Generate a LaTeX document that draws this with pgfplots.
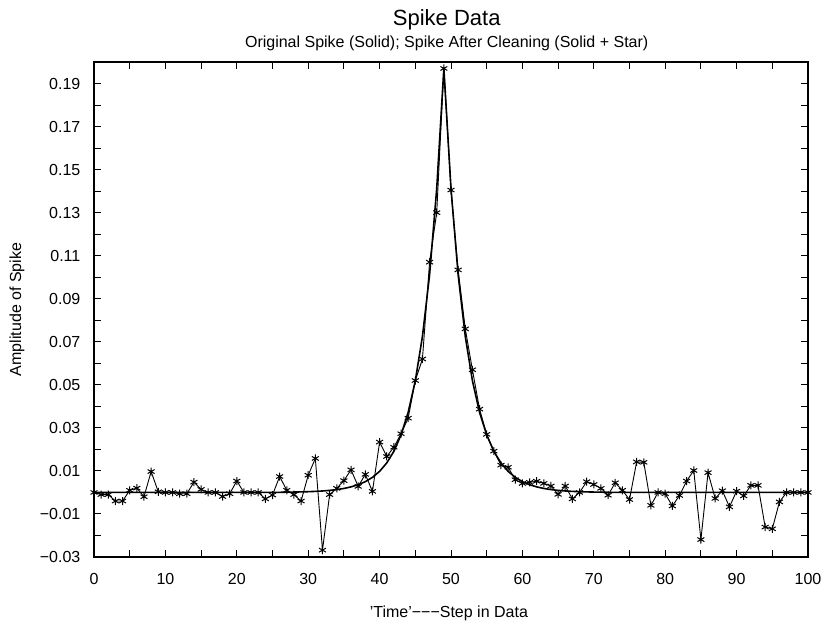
\documentclass[border=0pt]{standalone}
\usepackage{pgfplots}
\pgfplotsset{compat=1.18}
\usepackage{fontspec}
\setmainfont{Liberation Sans}
\begin{document}
\begin{tikzpicture}
\useasboundingbox (-47pt,-35.5pt) rectangle (365.5pt,278.5pt);
\begin{axis}[
  at={(0,0)}, anchor=south west,
  scale only axis,
  width=357pt, height=247.5pt,
  xmin=0, xmax=100, ymin=-0.03, ymax=0.2,
  axis line style={line width=0.6pt},
  tick style={black, line width=0.5pt},
  tick align=inside,
  major tick length=3.5pt, minor tick length=3.5pt,
  xtick={0,10,...,100},
  minor xtick={5,15,...,95},
  ytick={-0.03,-0.01,0.01,0.03,0.05,0.07,0.09,0.11,0.13,0.15,0.17,0.19},
  yticklabels={−0.03,−0.01,0.01,0.03,0.05,0.07,0.09,0.11,0.13,0.15,0.17,0.19},
  minor ytick={-0.02,0,0.02,0.04,0.06,0.08,0.10,0.12,0.14,0.16,0.18},
  /pgf/number format/assume math mode=true,
  ticklabel style={font=\fontsize{8}{9.6}\selectfont},
  xticklabel style={anchor=center, yshift=-11pt},
  yticklabel style={anchor=east, xshift=-3.3pt},
  xlabel={’Time’−−−Step in Data},
  ylabel={Amplitude of Spike},
  label style={font=\fontsize{8}{9.6}\selectfont},
  xlabel style={at={(axis description cs:0.497,-0.113)}, anchor=center},
  ylabel style={at={(axis description cs:-0.108,0.5)}, anchor=center},
  clip=false,
]
% original spike (solid)
\addplot[black, line width=0.8pt] coordinates {
(0,0) (26,0.00005) (27,0.00013) (28,0.00018) (29,0.00025) (30,0.00035)
(31,0.00049) (32,0.00068) (33,0.00095) (34,0.00133) (35,0.00185)
(36,0.00259) (37,0.0036) (38,0.0050) (39,0.0070) (40,0.0098)
(41,0.0137) (42,0.0191) (43,0.0267) (44,0.0372) (45,0.0519)
(46,0.0725) (47,0.1011) (48,0.1412) (49,0.197) (50,0.1412)
(51,0.1011) (52,0.0725) (53,0.0519) (54,0.0372) (55,0.0267)
(56,0.0191) (57,0.0137) (58,0.0098) (59,0.0070) (60,0.0050)
(61,0.0036) (62,0.00259) (63,0.00185) (64,0.00133) (65,0.00095)
(66,0.00068) (67,0.00049) (68,0.00035) (69,0.00025) (70,0.00018)
(71,0.00013) (72,0.00005) (100,0)
};
% spike after cleaning (solid + star)
\addplot[black, line width=0.45pt, mark=asterisk, mark size=2pt,
  mark options={line width=0.5pt}] coordinates {
(0,0) (1,-0.001) (2,-0.001) (3,-0.004) (4,-0.004) (5,0.001) (6,0.002)
(7,-0.002) (8,0.0097) (9,0.0003) (10,0) (11,0) (12,-0.0006) (13,-0.0006)
(14,0.0048) (15,0.0014) (16,0) (17,0) (18,-0.0019) (19,-0.0006)
(20,0.0053) (21,0) (22,0) (23,0) (24,-0.003) (25,-0.0012) (26,0.0074)
(27,0.001) (28,-0.001) (29,-0.004) (30,0.008) (31,0.0158) (32,-0.0268)
(33,-0.001) (34,0.0019) (35,0.0055) (36,0.0105) (37,0.0028) (38,0.0084)
(39,0.0005) (40,0.0234) (41,0.0167) (42,0.021) (43,0.0273) (44,0.0345)
(45,0.052) (46,0.062) (47,0.107) (48,0.130) (49,0.197) (50,0.1405)
(51,0.1034) (52,0.076) (53,0.057) (54,0.0387) (55,0.027) (56,0.0192)
(57,0.0127) (58,0.0117) (59,0.0059) (60,0.0042) (61,0.0047) (62,0.0052)
(63,0.0042) (64,0.003) (65,-0.0009) (66,0.003) (67,-0.003) (68,0)
(69,0.005) (70,0.0037) (71,0.0019) (72,-0.0013) (73,0.0045) (74,0.001)
(75,-0.0033) (76,0.0142) (77,0.014) (78,-0.006) (79,0) (80,-0.0006)
(81,-0.0063) (82,-0.0014) (83,0.0053) (84,0.0102) (85,-0.0219)
(86,0.0092) (87,-0.0028) (88,0.0008) (89,-0.0067) (90,0.0006)
(91,-0.0016) (92,0.0033) (93,0.0033) (94,-0.0161) (95,-0.0169)
(96,-0.0044) (97,0) (98,0) (99,0) (100,0)
};
\node[font=\fontsize{11}{13}\selectfont, anchor=center] at (axis description cs:0.494,1.085) {Spike Data};
\node[font=\fontsize{8}{9.6}\selectfont, anchor=center] at (axis description cs:0.494,1.038) {Original Spike (Solid); Spike After Cleaning (Solid + Star)};
\end{axis}
\end{tikzpicture}
\end{document}
